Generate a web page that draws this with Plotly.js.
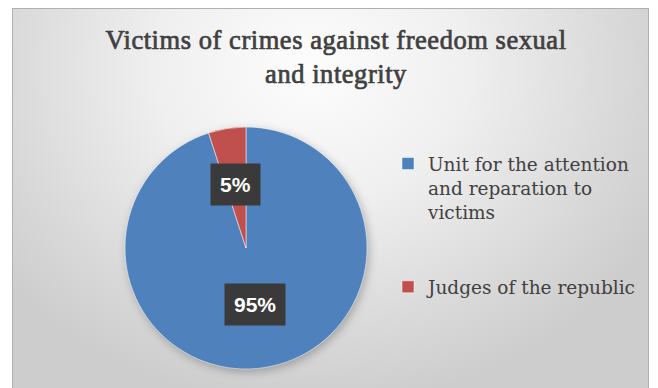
<!DOCTYPE html>
<html>
<head>
<meta charset="utf-8">
<script src="https://cdn.plot.ly/plotly-3.0.1.min.js"></script>
<style>
  html, body { margin:0; padding:0; width:658px; height:388px; overflow:hidden; background:#ffffff; }
  #frame { position:absolute; left:12px; top:8px; width:637px; height:400px;
    border:1px solid #b0b0b0; box-sizing:border-box;
    background: radial-gradient(ellipse 62% 85% at 47% 15%, #fdfdfd 0%, #efefef 40%, #d9d9d9 78%, #cdcdcd 100%); }
  #chart { position:absolute; left:0; top:0; width:658px; height:388px; }
  #chart .pielayer { filter: drop-shadow(2px 3px 4px rgba(0,0,0,0.25)); }
  #chart .gtitle { stroke: #404040; stroke-width: 0.7px; letter-spacing: 0.55px; }
</style>
</head>
<body>
<div id="frame"></div>
<div id="chart"></div>
<script>
// ---- data ----
const categories = ["Unit for the attention<br>and reparation to<br>victims", "Judges of the republic"];
const values = [95, 5];
const colors = ["#4f81bd", "#c0504d"];
const titleText = "Victims of crimes against freedom sexual<br>and integrity";

// ---- layout constants ----
const W = 658, H = 388;
const dom = {x: [125 / W, 367 / W], y: [(H - 369) / H, (H - 127) / H]};
const labelFrac = [0.47, 0.53];

// label positions computed from the slice angles
const total = values.reduce((a, b) => a + b, 0);
const cxp = (dom.x[0] + dom.x[1]) / 2 * W;
const cyp = H - (dom.y[0] + dom.y[1]) / 2 * H;
const rad = Math.min((dom.x[1] - dom.x[0]) * W, (dom.y[1] - dom.y[0]) * H) / 2;
let cum = 0;
const annotations = values.map((v, i) => {
  const mid = (cum + v / 2) / total * 2 * Math.PI;
  cum += v;
  const px = cxp + labelFrac[i] * rad * Math.sin(mid);
  const py = cyp - labelFrac[i] * rad * Math.cos(mid);
  return {
    x: px / W, y: 1 - py / H, xref: 'paper', yref: 'paper',
    text: Math.round(v / total * 100) + '%', showarrow: false,
    font: {family: "'Liberation Sans', Arial, sans-serif", size: 21, color: '#ffffff', weight: 'bold'},
    bgcolor: '#3a3a3a', borderpad: 9, xanchor: 'center', yanchor: 'middle'
  };
});

// legend entries: blank lines after multi-line entries for Excel-like spacing
const legendLabels = categories.map((c, i) => i < categories.length - 1 ? c + '<br> <br> ' : c);

const data = [{
  type: 'pie',
  labels: legendLabels,
  values: values,
  marker: {colors: colors, line: {width: 0.5, color: '#ffffff'}},
  sort: false,
  direction: 'clockwise',
  rotation: 0,
  textinfo: 'none',
  hoverinfo: 'label+percent',
  domain: dom
}];

const layout = {
  width: W, height: H,
  margin: {l: 0, r: 0, t: 0, b: 0},
  paper_bgcolor: 'rgba(0,0,0,0)',
  plot_bgcolor: 'rgba(0,0,0,0)',
  title: {
    text: titleText,
    x: 336 / W, xanchor: 'center',
    yref: 'container', y: 1 - 49 / H, yanchor: 'top',
    font: {family: "'Liberation Serif', 'Times New Roman', serif", size: 26.5, color: '#404040'}
  },
  showlegend: true,
  legend: {
    x: 388 / W, xanchor: 'left',
    y: 1 - 145 / H, yanchor: 'top',
    valign: 'top',
    bgcolor: 'rgba(0,0,0,0)',
    font: {family: "'DejaVu Serif', serif", size: 18.5, color: '#404040'}
  },
  annotations: annotations
};

Plotly.newPlot('chart', data, layout, {displayModeBar: false, staticPlot: true});
</script>
</body>
</html>
